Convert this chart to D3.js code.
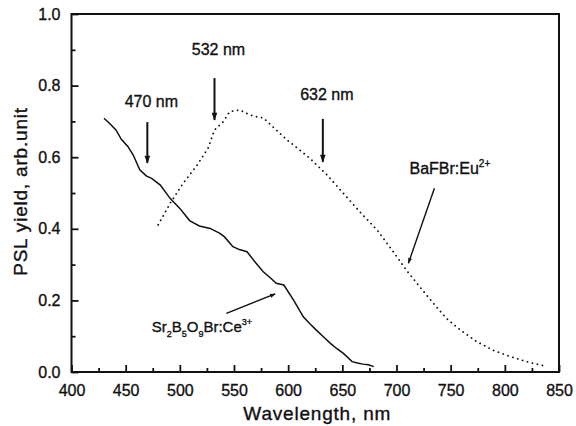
<!DOCTYPE html>
<html>
<head>
<meta charset="utf-8">
<script src="https://cdn.jsdelivr.net/npm/d3@7"></script>
<style>
  body { margin: 0; background: #fff; }
  text { font-family: "Liberation Sans", Arial, sans-serif; fill: #111; stroke: #111; stroke-width: 0.35px; }
</style>
</head>
<body>
<svg id="chart" width="576" height="426"></svg>
<script>
// Sr2B5O9Br:Ce3+ (solid line)
var srWave = [430, 435, 441, 446, 452, 457, 463, 469, 474, 482, 491, 500, 509, 518, 528, 537, 541, 549, 555, 562, 570, 577, 584, 589, 596, 605, 614, 620, 626, 632, 639, 645, 651, 659, 664, 669, 674, 679];
var srYield = [0.709, 0.695, 0.676, 0.650, 0.630, 0.606, 0.565, 0.548, 0.541, 0.522, 0.485, 0.457, 0.423, 0.408, 0.401, 0.387, 0.378, 0.350, 0.342, 0.336, 0.305, 0.280, 0.262, 0.248, 0.243, 0.201, 0.154, 0.135, 0.117, 0.100, 0.080, 0.065, 0.052, 0.029, 0.025, 0.022, 0.020, 0.015];

// BaFBr:Eu2+ (dotted line)
var baWave = [480, 491, 503, 516, 526, 532, 540, 546, 555, 565, 572, 577, 589, 599, 605, 620, 636, 651, 666, 682, 697, 709, 722, 734, 746, 759, 774, 789, 805, 820, 839];
var baYield = [0.411, 0.471, 0.527, 0.578, 0.625, 0.676, 0.699, 0.727, 0.732, 0.718, 0.712, 0.710, 0.676, 0.648, 0.634, 0.597, 0.550, 0.499, 0.448, 0.397, 0.336, 0.285, 0.236, 0.192, 0.150, 0.117, 0.085, 0.061, 0.043, 0.029, 0.015];

var xTicks = [400, 450, 500, 550, 600, 650, 700, 750, 800, 850];
var xMinor = [425, 475, 525, 575, 625, 675, 725, 775, 825];
var yTicks = [0.0, 0.2, 0.4, 0.6, 0.8, 1.0];
var yMinor = [0.1, 0.3, 0.5, 0.7, 0.9];

// laser lines: wavelength, arrow top, arrow tip, label y
var laserNm = [470, 532, 632];
var laserTop = [0.698, 0.821, 0.707];
var laserTip = [0.584, 0.704, 0.587];
var laserLabelY = [0.740, 0.885, 0.760];

var margin = {top: 14, right: 17, bottom: 54, left: 71.5},
    width = 576 - margin.left - margin.right,
    height = 426 - margin.top - margin.bottom;

var svg = d3.select("#chart");

svg.append("defs").append("marker")
    .attr("id", "head")
    .attr("viewBox", "0 0 10 10")
    .attr("refX", 9).attr("refY", 5)
    .attr("markerWidth", 5).attr("markerHeight", 4)
    .attr("markerUnits", "strokeWidth")
    .attr("orient", "auto")
    .append("path")
    .attr("d", "M0,1.5 L10,5 L0,8.5 Z")
    .attr("fill", "#111");

var g = svg.append("g")
    .attr("transform", "translate(" + margin.left + "," + margin.top + ")");

var x = d3.scaleLinear().domain([400, 850]).range([0, width]);
var y = d3.scaleLinear().domain([0, 1]).range([height, 0]);

// minor ticks
g.append("g")
    .attr("transform", "translate(0," + height + ")")
    .call(d3.axisBottom(x).tickValues(xMinor).tickSize(-4).tickFormat(""))
    .call(function (a) { a.select(".domain").remove(); });
g.append("g")
    .call(d3.axisLeft(y).tickValues(yMinor).tickSize(-4).tickFormat(""))
    .call(function (a) { a.select(".domain").remove(); });

// major ticks
var xAxis = g.append("g")
    .attr("transform", "translate(0," + height + ")")
    .call(d3.axisBottom(x).tickValues(xTicks).tickSize(-7).tickPadding(13).tickFormat(d3.format("d")));
var yAxis = g.append("g")
    .call(d3.axisLeft(y).tickValues(yTicks).tickSize(-7).tickPadding(11).tickFormat(d3.format(".1f")));

[xAxis, yAxis].forEach(function (a) {
    a.select(".domain").remove();
    a.selectAll("text").style("font-size", "16px").attr("fill", "#111");
});
g.selectAll(".tick line").attr("stroke", "#111").attr("stroke-width", 1.8);

// frame
g.append("rect")
    .attr("width", width).attr("height", height)
    .attr("fill", "none").attr("stroke", "#111").attr("stroke-width", 2);

var line = d3.line()
    .x(function (d) { return x(d[0]); })
    .y(function (d) { return y(d[1]); });

g.append("path")
    .datum(d3.zip(srWave, srYield))
    .attr("d", line)
    .attr("fill", "none").attr("stroke", "#111").attr("stroke-width", 1.5);

g.append("path")
    .datum(d3.zip(baWave, baYield))
    .attr("d", line)
    .attr("fill", "none").attr("stroke", "#111").attr("stroke-width", 1.8)
    .attr("stroke-linecap", "round")
    .attr("stroke-dasharray", "0.1,5");

// laser arrows
laserNm.forEach(function (nm, i) {
    g.append("line")
        .attr("x1", x(nm)).attr("x2", x(nm))
        .attr("y1", y(laserTop[i])).attr("y2", y(laserTip[i]))
        .attr("stroke", "#111").attr("stroke-width", 2)
        .attr("marker-end", "url(#head)");
    g.append("text")
        .attr("x", x(nm) + 4).attr("y", y(laserLabelY[i]))
        .attr("text-anchor", "middle")
        .style("font-size", "16px")
        .text(nm + " nm");
});

// BaFBr:Eu2+ label and pointer
g.append("line")
    .attr("x1", x(735)).attr("y1", y(0.513))
    .attr("x2", x(711)).attr("y2", y(0.304))
    .attr("stroke", "#111").attr("stroke-width", 1.4)
    .attr("marker-end", "url(#head)");
var ba = g.append("text")
    .attr("x", x(712)).attr("y", y(0.552))
    .style("font-size", "16px");
ba.append("tspan").text("BaFBr:Eu");
ba.append("tspan").attr("dy", -7).style("font-size", "10px").text("2+");

// Sr2B5O9Br:Ce3+ label and pointer
g.append("line")
    .attr("x1", x(543)).attr("y1", y(0.164))
    .attr("x2", x(588)).attr("y2", y(0.218))
    .attr("stroke", "#111").attr("stroke-width", 1.4)
    .attr("marker-end", "url(#head)");
var sr = g.append("text")
    .attr("x", x(474)).attr("y", y(0.111))
    .style("font-size", "15px");
[["Sr", 0], ["2", 1], ["B", 0], ["5", 1], ["O", 0], ["9", 1], ["Br:Ce", 0], ["3+", 2]].forEach(function (p, i, arr) {
    var prev = i > 0 ? arr[i - 1][1] : 0;
    var shift = [0, 5, -7][p[1]] - [0, 5, -7][prev];
    sr.append("tspan")
        .attr("dy", shift)
        .style("font-size", p[1] ? "9px" : "15px")
        .text(p[0]);
});

// axis titles
g.append("text")
    .attr("x", width / 2 + 2).attr("y", height + 48)
    .attr("text-anchor", "middle")
    .style("font-size", "19px").style("letter-spacing", "0.8px")
    .text("Wavelength, nm");

g.append("text")
    .attr("transform", "translate(" + (27 - margin.left) + "," + (191.5 - margin.top) + ") rotate(-90)")
    .attr("text-anchor", "middle")
    .style("font-size", "19px").style("letter-spacing", "0.8px")
    .text("PSL yield, arb.unit");
</script>
</body>
</html>
